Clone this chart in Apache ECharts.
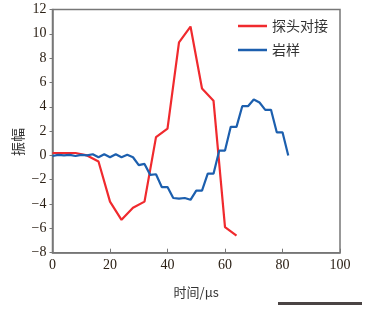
<!DOCTYPE html>
<html>
<head>
<meta charset="utf-8">
<script src="https://cdn.jsdelivr.net/npm/echarts@6/dist/echarts.min.js"></script>
<style>
html, body { margin: 0; padding: 0; background: #fff; }
#chart { width: 367px; height: 312px; }
</style>
</head>
<body>
<div id="chart"></div>
<script>
/* 探头对接 */
var probeTime = [0, 4, 8, 12, 16, 20, 24, 28, 32, 36, 40, 44, 48, 52, 56, 60, 64];
var probeAmp = [0.2, 0.2, 0.2, 0, -0.5, -3.8, -5.3, -4.3, -3.8, 1.5, 2.2, 9.3, 10.6, 5.5, 4.5, -5.9, -6.6];

/* 岩样 */
var rockTime = [0, 2, 4, 6, 8, 10, 12, 14, 16, 18, 20, 22, 24, 26, 28, 30, 32, 34, 36, 38, 40,
    42, 44, 46, 48, 50, 52, 54, 56, 58, 60, 62, 64, 66, 68, 70, 72, 74, 76, 78, 80, 82];
var rockAmp = [-0.05, 0.05, 0, 0.05, -0.05, 0.05, 0, 0.1, -0.15, 0.1, -0.15, 0.1, -0.15, 0.05, -0.15,
    -0.8, -0.7, -1.6, -1.55, -2.6, -2.6, -3.5, -3.55, -3.5, -3.65, -2.9, -2.9, -1.5, -1.5,
    0.4, 0.4, 2.35, 2.35, 4.05, 4.05, 4.6, 4.35, 3.75, 3.75, 1.9, 1.9, 0];

var seriesNames = ['探头对接', '岩样'];
var xName = '时间/μs';
var yName = '振幅';

function pairs(xs, ys) {
    var out = [];
    xs.forEach(function (x, i) { out.push([x, ys[i]]); });
    return out;
}

var myChart = echarts.init(document.getElementById('chart'));
var serif = 'Liberation Serif';
var cjk = 'Noto Sans CJK SC';
var axisColor = '#777';

var options = {
    animation: false,
    grid: {
        left: 52.5, right: 27, top: 9.5, bottom: 59.3,
        show: true, borderColor: axisColor, borderWidth: 1.5
    },
    legend: {
        orient: 'vertical',
        left: 238, top: 19, padding: 0,
        icon: 'rect',
        itemWidth: 29, itemHeight: 2.5, itemGap: 10,
        textStyle: { fontFamily: cjk, fontSize: 14, color: '#333' },
        data: seriesNames
    },
    xAxis: {
        type: 'value', min: 0, max: 100, interval: 20,
        name: xName, nameLocation: 'middle', nameGap: 33,
        nameTextStyle: { fontFamily: cjk, fontSize: 13, color: '#333' },
        axisLine: { onZero: false, lineStyle: { color: axisColor, width: 1.5 } },
        axisTick: { inside: true, length: 4, lineStyle: { color: axisColor } },
        axisLabel: { margin: 6, fontFamily: serif, fontSize: 14, color: '#2b2015' },
        splitLine: { show: false }
    },
    yAxis: {
        type: 'value', min: -8, max: 12, interval: 2,
        axisLine: { lineStyle: { color: axisColor, width: 1.5 } },
        axisTick: { inside: false, length: 3, lineStyle: { color: axisColor } },
        axisLabel: {
            margin: 6, fontFamily: serif, fontSize: 14, color: '#2b2015',
            formatter: function (v) { return String(v).replace('-', '\u2212'); }
        },
        splitLine: { show: false }
    },
    graphic: [
        {
            type: 'text', x: 18, y: 142, rotation: Math.PI / 2,
            style: { text: yName, fontFamily: cjk, fontSize: 14, fill: '#333', align: 'center', verticalAlign: 'middle' }
        },
        {
            type: 'rect', shape: { x: 278, y: 302, width: 84, height: 3 },
            style: { fill: '#4a4444' }
        }
    ],
    series: [
        {
            name: seriesNames[0], type: 'line', symbol: 'none',
            lineStyle: { color: '#f02a2e', width: 2.2 },
            itemStyle: { color: '#f02a2e' },
            data: pairs(probeTime, probeAmp)
        },
        {
            name: seriesNames[1], type: 'line', symbol: 'none',
            lineStyle: { color: '#1c5fae', width: 2.2 },
            itemStyle: { color: '#1c5fae' },
            data: pairs(rockTime, rockAmp)
        }
    ]
};
myChart.setOption(options);
</script>
</body>
</html>
